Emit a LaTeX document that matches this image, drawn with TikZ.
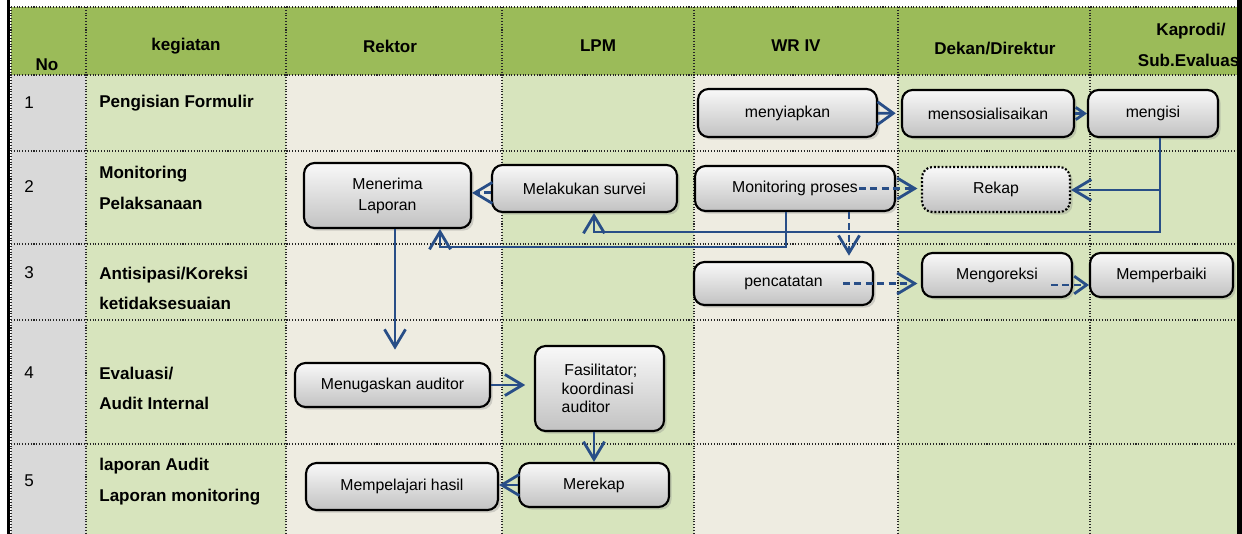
\documentclass[tikz,border=0pt]{standalone}
\usepackage{fontspec}
\setmainfont{Liberation Sans}
\usetikzlibrary{arrows.meta,shadows}

\begin{document}
\begin{tikzpicture}[x=0.02cm, y=-0.02cm,
    actbox/.style={draw=black, line width=1.2pt, rounded corners=6pt,
        top color=gray!5, bottom color=gray!48,
        drop shadow={shadow xshift=1.5pt, shadow yshift=-1.5pt, opacity=0.3},
        font=\fontsize{9}{12}\selectfont, inner sep=1pt, align=center},
    flowarr/.style={draw=myline, line width=1.6pt, -{Straight Barb[length=10pt,width=12pt]}},
    dflowarr/.style={flowarr, dash pattern=on 4pt off 2.5pt},
    headtxt/.style={font=\fontsize{9.7}{18}\selectfont\bfseries, align=center},
    lbltxt/.style={font=\fontsize{9.7}{17.5}\selectfont\bfseries, anchor=west, align=left, inner sep=0pt},
    numtxt/.style={font=\fontsize{9.7}{12}\selectfont, anchor=west, inner sep=0pt},
    gridline/.style={densely dotted, line width=0.6pt, black!85}]
    \definecolor{headgreen}{RGB}{155,187,89}
    \definecolor{lightgreen}{RGB}{215,228,189}
    \definecolor{cream}{RGB}{238,236,225}
    \definecolor{nogray}{RGB}{217,217,217}
    \definecolor{myline}{RGB}{40,78,135}

    \useasboundingbox (0,0) rectangle (1242,534);
    \fill[white] (0,0) rectangle (1242,534);

    % table
    \fill[headgreen] (11,7) rectangle (1237,75);
    \fill[nogray] (11,75) rectangle (86,534);
    \foreach \xa/\xb/\col in {86/286/lightgreen, 286/502/cream, 502/694/lightgreen,
        694/898/cream, 898/1090/lightgreen, 1090/1237/lightgreen} {
        \fill[\col] (\xa,75) rectangle (\xb,534);
    }
    \foreach \x in {11,86,286,502,694,898,1090} {
        \draw[gridline] (\x,7) -- (\x,534);
    }
    \foreach \y in {7,75,151,244,320,444} {
        \draw[gridline] (11,\y) -- (1237,\y);
    }
    \fill[black] (7,0) rectangle (10,534);
    \fill[black] (1237,0) rectangle (1242,534);

    % header
    \node[headtxt] (hno) at (47,65) {No};
    \node[headtxt] (hkeg) at (186,46) {kegiatan};
    \node[headtxt] (hrek) at (390,46) {Rektor};
    \node[headtxt] (hlpm) at (598,46) {LPM};
    \node[headtxt] (hwr) at (796,46) {WR IV};
    \node[headtxt] (hdek) at (995,48) {Dekan/Direktur};
    \begin{scope}
        \clip (1090,7) rectangle (1237,75);
        \node[headtxt] (hkap) at (1191,45) {Kaprodi/\\Sub.Evaluasi};
    \end{scope}

    % rows
    \node[numtxt] (n1) at (24,103) {1};
    \node[numtxt] (n2) at (24,187) {2};
    \node[numtxt] (n3) at (24,273) {3};
    \node[numtxt] (n4) at (24,373) {4};
    \node[numtxt] (n5) at (24,481) {5};
    \node[lbltxt] (k1) at (99,103) {Pengisian Formulir};
    \node[lbltxt] (k2) at (99,188) {Monitoring\\Pelaksanaan};
    \node[lbltxt] (k3) at (99,288.5) {Antisipasi/Koreksi\\ketidaksesuaian};
    \node[lbltxt] (k4) at (99,388.5) {Evaluasi/\\Audit Internal};
    \node[lbltxt] (k5) at (99,482) {laporan Audit\\Laporan monitoring};

    % activities
    \node[actbox, minimum width=3.58cm, minimum height=0.96cm] (wr1) at (787.5,113) {menyiapkan};
    \node[actbox, minimum width=3.44cm, minimum height=0.94cm] (dk1) at (988,113.5) {mensosialisaikan};
    \node[actbox, minimum width=2.60cm, minimum height=0.94cm] (kp1) at (1153,113.5) {mengisi};
    \node[actbox, minimum width=3.34cm, minimum height=1.30cm] (rk2) at (387.5,195.5) {Menerima\\Laporan};
    \node[actbox, minimum width=3.70cm, minimum height=0.94cm] (lp2) at (584.5,188.5) {Melakukan survei};
    \node[actbox, minimum width=4.00cm, minimum height=0.90cm] (wr2) at (795,188.5) {Monitoring proses};
    \node[actbox, minimum width=2.96cm, minimum height=0.90cm, dash pattern=on 1.1pt off 1.1pt] (dk2) at (996,189.5) {Rekap};
    \node[actbox, minimum width=3.58cm, minimum height=0.86cm] (wr3) at (783.5,283.5) {pencatatan};
    \node[actbox, minimum width=3.00cm, minimum height=0.88cm] (dk3) at (997,275) {Mengoreksi};
    \node[actbox, minimum width=2.86cm, minimum height=0.88cm] (kp3) at (1161.5,275) {Memperbaiki};
    \node[actbox, minimum width=3.90cm, minimum height=0.88cm] (rk4) at (392.5,385) {Menugaskan auditor};
    \node[actbox, minimum width=2.58cm, minimum height=1.70cm, align=left,
        font=\fontsize{9}{10.5}\selectfont] (lp4) at (599.5,388.5) {\,Fasilitator;\\koordinasi\\auditor};
    \node[actbox, minimum width=3.84cm, minimum height=0.94cm] (rk5) at (402,486.5) {Mempelajari hasil};
    \node[actbox, minimum width=3.00cm, minimum height=0.88cm] (lp5) at (594,485) {Merekap};

    % connectors
    \draw[flowarr, -{Straight Barb[length=9pt,width=13pt]}, shorten >=3pt] (wr1) -- (dk1);
    \draw[flowarr, -{Straight Barb[length=5pt,width=7pt]}] (dk1) -- (kp1);
    \draw[dflowarr] ([yshift=-2.5pt]lp2.west) -- ([yshift=-2.5pt]rk2.east |- lp2.west);
    \draw[dflowarr, shorten >=2pt] ([xshift=-0.74cm]wr2.east) -- (wr2.east -| dk2.west);
    \draw[dflowarr, shorten >=3pt] ([xshift=1.08cm]wr2.south) -- ([xshift=1.08cm]wr2.south |- wr3.north);
    \draw[dflowarr, shorten >=2pt] ([xshift=-0.62cm]wr3.east) -- (wr3.east -| dk3.west);
    \draw[dflowarr, -{Straight Barb[length=7pt,width=10pt]}] ([xshift=-0.44cm,yshift=-0.2cm]dk3.east) -- ([yshift=-0.2cm]kp3.west);

    \coordinate (kpturn) at (1160,232);
    \coordinate (lpturn) at (594,232);
    \coordinate (kpfork) at (1160,190);
    \draw[flowarr] (kp1.south -| kpturn) -- (kpturn) -- (lpturn) -- (lpturn |- lp2.south);
    \draw[flowarr] (kpfork) -- (kpfork -| dk2.east);

    \coordinate (wrturn) at (786,247);
    \coordinate (rkturn) at (440,247);
    \draw[flowarr] (wr2.south -| wrturn) -- (wrturn) -- (rkturn) -- (rkturn |- rk2.south);

    \draw[flowarr, shorten >=7pt] ([xshift=0.15cm]rk2.south) -- ([xshift=0.15cm]rk2.south |- rk4.north);
    \draw[flowarr, shorten >=5pt] (rk4.east) -- (rk4.east -| lp4.west);
    \draw[flowarr] (lp4.south -| lp5.north) -- (lp5.north);
    \draw[flowarr] (lp5.west) -- (lp5.west -| rk5.east);
\end{tikzpicture}
\end{document}
